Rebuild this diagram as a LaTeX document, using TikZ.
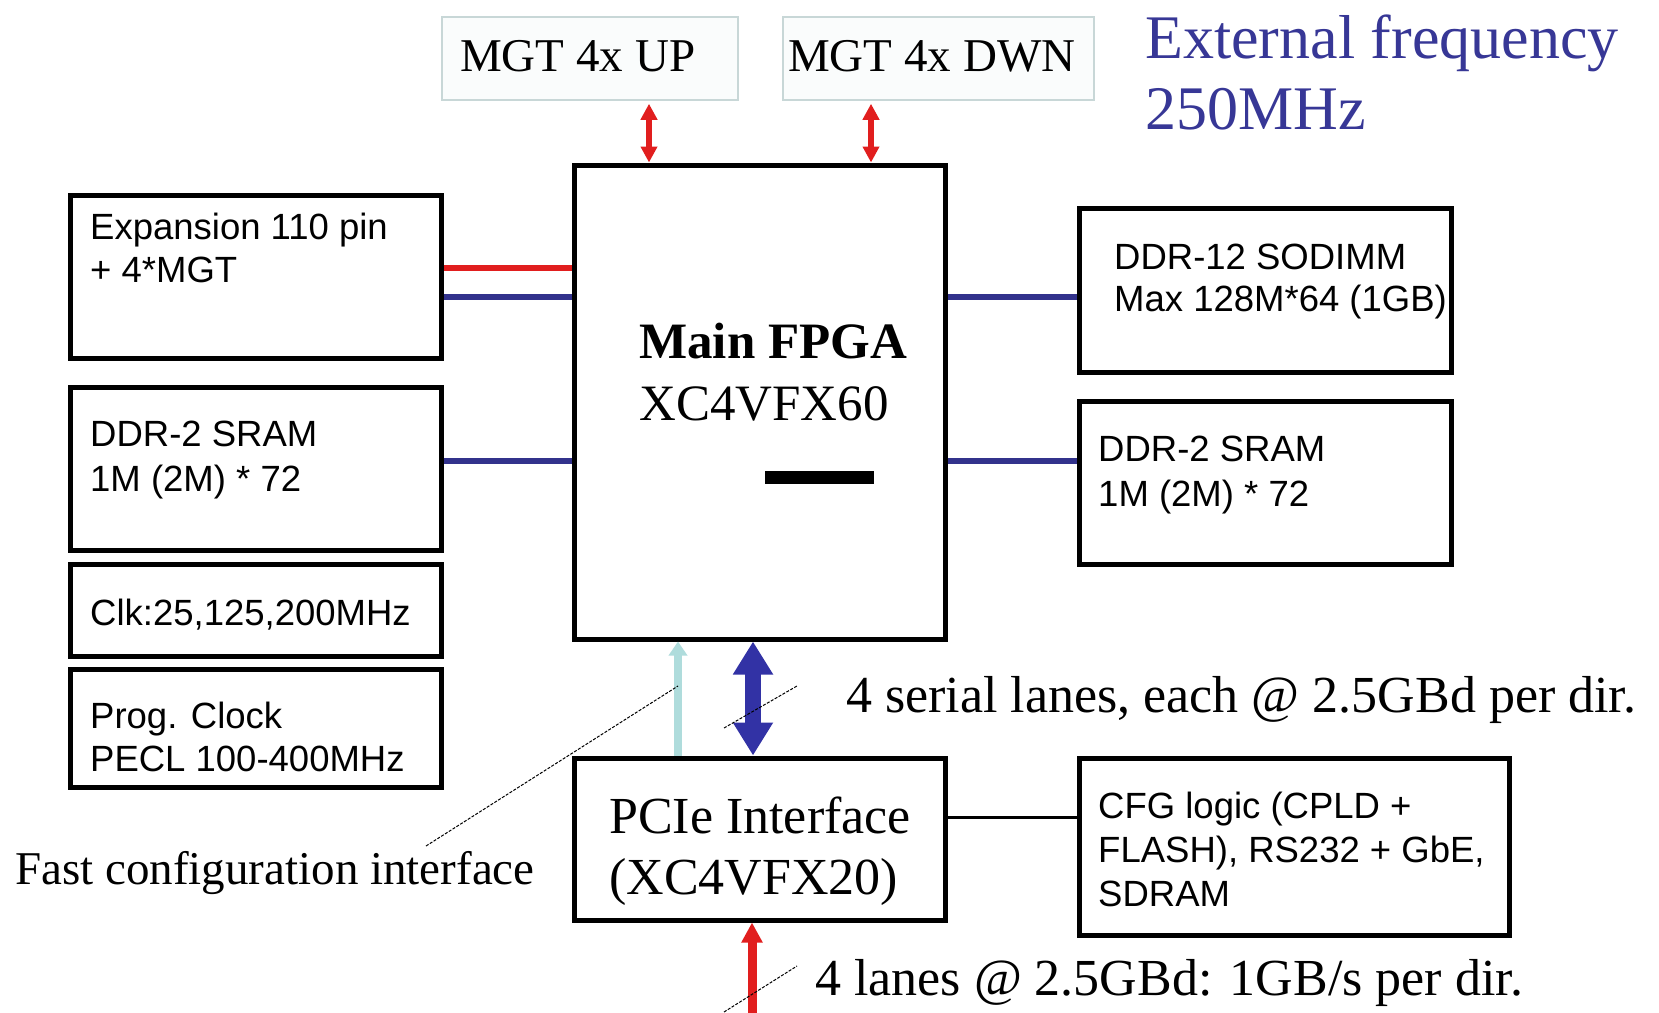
\documentclass[tikz,border=0pt]{standalone}
\usepackage{fontspec}
\setmainfont{Liberation Serif}
\newfontfamily\sansf{Liberation Sans}
\usetikzlibrary{arrows.meta}
\definecolor{myred}{RGB}{225,30,30}
\definecolor{myblue}{RGB}{50,50,140}
\definecolor{arrblue}{RGB}{50,50,165}
\definecolor{ltblue}{RGB}{175,220,220}
\definecolor{freqblue}{RGB}{55,55,150}
\definecolor{mgtborder}{RGB}{200,215,215}
\definecolor{mgtfill}{RGB}{250,252,252}
\begin{document}
\begin{tikzpicture}[x=1pt,y=-1pt,
  blk/.style={draw=black,line width=5pt,fill=white,inner sep=0pt},
  mgtbox/.style={draw=mgtborder,line width=1.5pt,fill=mgtfill,inner sep=0pt},
  lbl/.style={anchor=base west,inner sep=0pt},
  sanslbl/.style={lbl,font=\sansf\fontsize{36.5}{42}\selectfont},
  serifA/.style={lbl,font=\fontsize{47}{56}\selectfont},
  serifB/.style={lbl,font=\fontsize{52}{60}\selectfont},
  freqlbl/.style={lbl,text=freqblue,font=\fontsize{62}{70}\selectfont},
  bus/.style={line width=6pt},
  mgtarrow/.style={myred,line width=6pt,{Triangle[width=16pt,length=16pt]}-{Triangle[width=16pt,length=16pt]}},
  dashln/.style={black,line width=1pt,dash pattern=on 3pt off 1.5pt}
]
\useasboundingbox[fill=white] (0,0) rectangle (1659,1012);

% boxes
\node[mgtbox,minimum width=296,minimum height=83] (mgtup) at (590,58.5) {};
\node[mgtbox,minimum width=311,minimum height=83] (mgtdwn) at (938.5,58.5) {};
\node[blk,minimum width=371,minimum height=474] (fpga) at (759.5,402) {};
\node[blk,minimum width=371,minimum height=163] (exp) at (255.5,276.5) {};
\node[blk,minimum width=371,minimum height=163] (sraml) at (255.5,468.5) {};
\node[blk,minimum width=371,minimum height=92] (clk) at (255.5,610) {};
\node[blk,minimum width=371,minimum height=118] (prog) at (255.5,728) {};
\node[blk,minimum width=372,minimum height=164] (sodimm) at (1265,290) {};
\node[blk,minimum width=372,minimum height=163] (sramr) at (1265,482.5) {};
\node[blk,minimum width=371,minimum height=162] (pcie) at (759.5,839) {};
\node[blk,minimum width=430,minimum height=177] (cfg) at (1294,846.5) {};
\node[fill=black,inner sep=0pt,minimum width=109,minimum height=13] (bar) at (819.5,477.5) {};

% buses
\draw[bus,myred] (exp.east |- 0,268) -- (fpga.west |- 0,268);
\draw[bus,myblue] (exp.east |- 0,297) -- (fpga.west |- 0,297);
\draw[bus,myblue] (sraml.east |- 0,461) -- (fpga.west |- 0,461);
\draw[bus,myblue] (fpga.east |- 0,297) -- (sodimm.west |- 0,297);
\draw[bus,myblue] (fpga.east |- 0,461) -- (sramr.west |- 0,461);
\draw[black,line width=3pt] (pcie.east |- 0,817) -- (cfg.west |- 0,817);

% arrows
\draw[mgtarrow,shorten <=3pt] (mgtup.south -| 649,0) -- (fpga.north -| 649,0);
\draw[mgtarrow,shorten <=3pt] (mgtdwn.south -| 871,0) -- (fpga.north -| 871,0);
\draw[ltblue,line width=8pt,-{Triangle[width=18pt,length=14pt]}] (pcie.north -| 678,0) -- (fpga.south -| 678,0);
\draw[arrblue,line width=16pt,{Triangle[width=38pt,length=33pt]}-{Triangle[width=38pt,length=33pt]}] (fpga.south -| 753,0) -- (pcie.north -| 753,0);
\coordinate (pcin) at (752,1016);
\draw[myred,line width=9pt,-{Triangle[width=20pt,length=20pt]}] (pcin) -- (pcie.south -| 752,0);

% dashed pointer lines
\coordinate (fc1) at (426,846);
\coordinate (fc2) at (678,686);
\coordinate (sl1) at (724,728);
\coordinate (sl2) at (797,686);
\coordinate (bl1) at (724,1012);
\coordinate (bl2) at (797,966);
\draw[dashln] (fc1) -- (fc2);
\draw[dashln] (sl1) -- (sl2);
\draw[dashln] (bl1) -- (bl2);

% texts
\node[serifA] (tup) at (460,71) {MGT 4x UP};
\node[serifA] (tdwn) at (788,71) {MGT 4x DWN};
\node[freqlbl] (ext1) at (1145,58) {External frequency};
\node[freqlbl] (ext2) at (1145,129) {250MHz};
\node[lbl,font=\bfseries\fontsize{51}{60}\selectfont] (tmain) at (639,358) {Main FPGA};
\node[lbl,font=\fontsize{51}{60}\selectfont] (tmain2) at (639,420) {XC4VFX60};
\node[serifB] (tpcie) at (609,833) {PCIe Interface};
\node[serifB] (tpcie2) at (609,894) {(XC4VFX20)};
\node[serifB] (tserial) at (846,712) {4 serial lanes, each @ 2.5GBd per dir.};
\node[serifA] (tfast) at (15,884) {Fast configuration interface};
\node[serifB] (tlanes) at (815,995) {4 lanes @ 2.5GBd: 1GB/s per dir.};

\node[sanslbl] (texp1) at (90,239) {Expansion 110 pin};
\node[sanslbl] (texp2) at (90,282) {+ 4*MGT};
\node[sanslbl] (tsl1) at (90,446) {DDR-2 SRAM};
\node[sanslbl] (tsl2) at (90,491) {1M (2M) * 72};
\node[sanslbl] (tclk) at (90,625) {Clk:25,125,200MHz};
\node[sanslbl] (tprog1) at (90,728) {Prog. Clock};
\node[sanslbl] (tprog2) at (90,771) {PECL 100-400MHz};
\node[sanslbl] (tso1) at (1114,269) {DDR-12 SODIMM};
\node[sanslbl] (tso2) at (1114,311) {Max 128M*64 (1GB)};
\node[sanslbl] (tsr1) at (1098,461) {DDR-2 SRAM};
\node[sanslbl] (tsr2) at (1098,506) {1M (2M) * 72};
\node[sanslbl] (tcfg1) at (1098,818) {CFG logic (CPLD +};
\node[sanslbl] (tcfg2) at (1098,862) {FLASH), RS232 + GbE,};
\node[sanslbl] (tcfg3) at (1098,906) {SDRAM};
\end{tikzpicture}
\end{document}
